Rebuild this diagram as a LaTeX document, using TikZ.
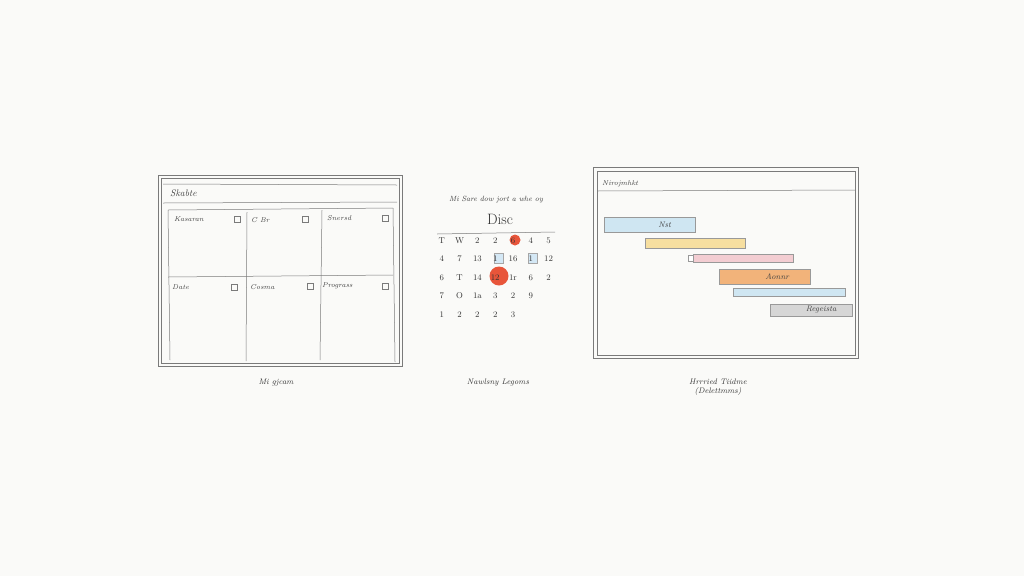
\documentclass[tikz,border=0pt]{standalone}
\usepackage{tikz}
\definecolor{paper}{HTML}{FAFAF8}
\definecolor{penink}{HTML}{7A7A7A}
\definecolor{barblue}{HTML}{CFE6F2}
\definecolor{baryellow}{HTML}{F7DFA0}
\definecolor{barpink}{HTML}{F3CDD2}
\definecolor{barorange}{HTML}{F2B37A}
\definecolor{bargray}{HTML}{D6D6D6}
\definecolor{markred}{HTML}{E8553A}
\definecolor{markblue}{HTML}{D4E8F5}

\begin{document}
\begin{tikzpicture}[x=1pt, y=-1pt,
  pen/.style={draw=penink, line width=0.5pt},
  scribble/.style={font=\fontsize{7}{8}\selectfont\itshape, text=black!75, inner sep=0pt},
  icon/.style={pen, minimum size=6.5pt, inner sep=0pt},
  day/.style={font=\fontsize{8.5}{9}\selectfont, text=black!80, inner sep=0pt},
  caption/.style={font=\fontsize{8}{9.5}\selectfont\itshape, text=black!80, align=center, inner sep=0pt},
  bar/.style={draw=black!40, line width=0.4pt, anchor=west, inner sep=0pt,
    font=\fontsize{8}{9}\selectfont\itshape, text=black!75}]

  % paper
  \fill[paper] (0,0) rectangle (1024,576);

  % board sketch
  \draw[pen] (158,175) rectangle (402,366);
  \draw[pen] (161,178) rectangle (399,363);
  \draw[pen] (163,184) -- (397,185) (163,203) -- (397,202);
  \node[scribble, anchor=west, font=\fontsize{9.5}{10}\selectfont\itshape] (boardtitle) at (170,193) {Skabte};
  \draw[pen] (168,210) -- (393,208);
  \draw[pen] (168,277) -- (393,275);
  \draw[pen] (168,210) -- (170,360);
  \draw[pen] (247,212) -- (246,361);
  \draw[pen] (322,210) -- (320,360);
  \draw[pen] (393,208) -- (395,362);
  \node[scribble, anchor=west] (cellA) at (174,219) {Kasaran};
  \node[icon] (iconA) at (237,219) {};
  \node[scribble, anchor=west] (cellB) at (251,220) {C Br};
  \node[icon] (iconB) at (305,219) {};
  \node[scribble, anchor=west] (cellC) at (327,218) {Snersd};
  \node[icon] (iconC) at (385,218) {};
  \node[scribble, anchor=west] (cellD) at (172,287) {Date};
  \node[icon] (iconD) at (234,287) {};
  \node[scribble, anchor=west] (cellE) at (250,287) {Cosma};
  \node[icon] (iconE) at (310,286) {};
  \node[scribble, anchor=west] (cellF) at (322,286) {Prograss};
  \node[icon] (iconF) at (385,286) {};
  \node[caption] (boardcap) at (276,383) {Mi gjcam};

  % calendar sketch
  \node[scribble, font=\fontsize{7.5}{8}\selectfont\itshape] (calhead) at (496,200) {Mi Sare dow jort a whe oy};
  \node[font=\fontsize{15}{16}\selectfont, text=black!80] (calmonth) at (500,219) {Disc};
  \draw[pen] (437,234) -- (555,232);
  \fill[markred] (515,240) circle (5.5);
  \fill[markred] (499,276) circle (9.5);
  \draw[pen, draw=black!35, fill=markblue] (494,253) rectangle (503,263);
  \draw[pen, draw=black!35, fill=markblue] (528,253) rectangle (537,263);
  \foreach \row [count=\r] in {
      {T,W,2,2,6,4,5},
      {4,7,13,1,16,1,12},
      {6,T,14,12,1r,6,2},
      {7,O,1a,3,2,9,},
      {1,2,2,2,3,,}} {
    \foreach \d [count=\c] in \row {
      \node[day] (day-\r-\c) at ({424+17.8*\c},{222+18.5*\r}) {\d};
    }
  }
  \node[caption] (calcap) at (498,383) {Nawlsny Legoms};

  % timeline sketch
  \draw[pen] (593,167) rectangle (858,358);
  \draw[pen] (597,171) rectangle (855,355);
  \draw[pen] (597,191) -- (855,190);
  \node[scribble, anchor=west] (linetitle) at (602,184) {Nirojmhkt};
  \node[bar, fill=barblue, minimum width=91pt, minimum height=15pt] (barA) at (604,225) {\hspace{30pt}Nst};
  \node[bar, fill=baryellow, minimum width=100pt, minimum height=10pt] (barB) at (645,243) {};
  \node[bar, fill=barpink, minimum width=100pt, minimum height=8pt] (barC) at (693,258) {};
  \node[bar, fill=white, minimum width=5pt, minimum height=6pt] (capC) at (688,258) {};
  \node[bar, fill=barorange, minimum width=91pt, minimum height=15pt] (barD) at (719,277) {\hspace{25pt}Aonnr};
  \node[bar, fill=barblue, minimum width=112pt, minimum height=8pt] (barE) at (733,292) {};
  \node[bar, fill=bargray, minimum width=82pt, minimum height=12pt] (barF) at (770,310) {\hspace{20pt}Regeista};
  \node[caption] (linecap) at (718,387) {Hrrried Tiidme\\(Delettmms)};
\end{tikzpicture}
\end{document}
